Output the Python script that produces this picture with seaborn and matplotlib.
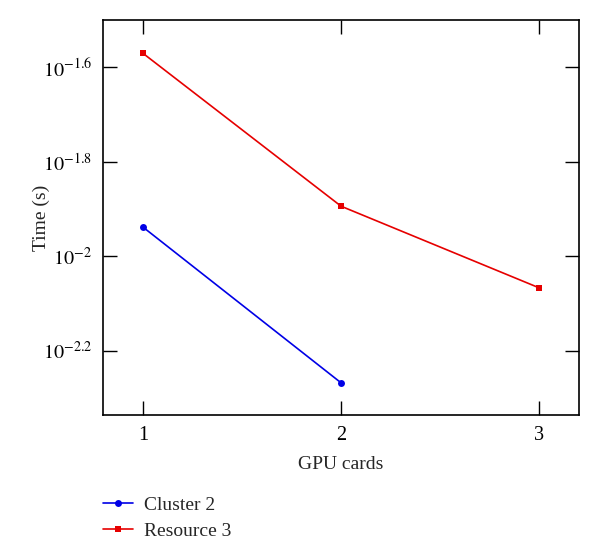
import pandas as pd
import numpy as np
import matplotlib
matplotlib.use('Agg')
import matplotlib.pyplot as plt
import seaborn as sns
from matplotlib.ticker import FixedLocator, FuncFormatter, NullLocator
from matplotlib.lines import Line2D

# data (log10 exponents converted to seconds)
cluster_gpus = [1, 2]
cluster_time = [10 ** -1.938, 10 ** -2.268]
resource_gpus = [1, 2, 3]
resource_time = [10 ** -1.570, 10 ** -1.894, 10 ** -2.067]
series_names = ['Cluster 2', 'Resource 3']
y_exponents = [-2.2, -2.0, -1.8, -1.6]

df = pd.concat([
    pd.DataFrame({'GPU cards': cluster_gpus, 'Time (s)': cluster_time, 'series': series_names[0]}),
    pd.DataFrame({'GPU cards': resource_gpus, 'Time (s)': resource_time, 'series': series_names[1]}),
])

sns.set_style('ticks')
plt.rcParams['font.family'] = ['Liberation Serif', 'DejaVu Serif']
plt.rcParams['mathtext.fontset'] = 'stix'

fig = plt.figure(figsize=(6, 5.6), dpi=100)
ax = fig.add_axes([0.172, 0.259, 0.793, 0.705])

sns.lineplot(data=df, x='GPU cards', y='Time (s)', hue='series', style='series',
             markers={'Cluster 2': 'o', 'Resource 3': 's'}, dashes=False,
             palette={'Cluster 2': '#0000e6', 'Resource 3': '#e60000'},
             markersize=5, markeredgewidth=0, linewidth=1.2, ax=ax, legend=False)

ax.set_yscale('log')
ax.set_ylim(10 ** -2.336, 10 ** -1.5)
ax.set_xlim(0.8, 3.2)
ax.xaxis.set_major_locator(FixedLocator([1, 2, 3]))
ax.yaxis.set_major_locator(FixedLocator([10 ** e for e in y_exponents]))
ax.yaxis.set_minor_locator(NullLocator())
ax.yaxis.set_major_formatter(FuncFormatter(
    lambda v, p: r'$10^{%g}$' % round(np.log10(v), 1)))
ax.tick_params(direction='in', length=10, width=1, top=True, right=True,
               labelsize=14.5, colors='black', pad=8)
for s in ax.spines.values():
    s.set_linewidth(1.2)
    s.set_color('black')

ax.set_xlabel('GPU cards', fontsize=14, labelpad=8)
ax.set_ylabel('Time (s)', fontsize=14)
ax.yaxis.set_label_coords(-0.112, 0.5)

handles = [Line2D([], [], color='#0000e6', marker='o', markersize=5, markeredgewidth=0, lw=1.2),
           Line2D([], [], color='#e60000', marker='s', markersize=5, markeredgewidth=0, lw=1.2)]
fig.legend(handles, series_names, loc='upper left', bbox_to_anchor=(0.171, 0.114),
           borderaxespad=0, borderpad=0, frameon=False, fontsize=14,
           handlelength=1.55, handletextpad=0.6, labelspacing=0.45)

fig.savefig('out.png', dpi=100)
